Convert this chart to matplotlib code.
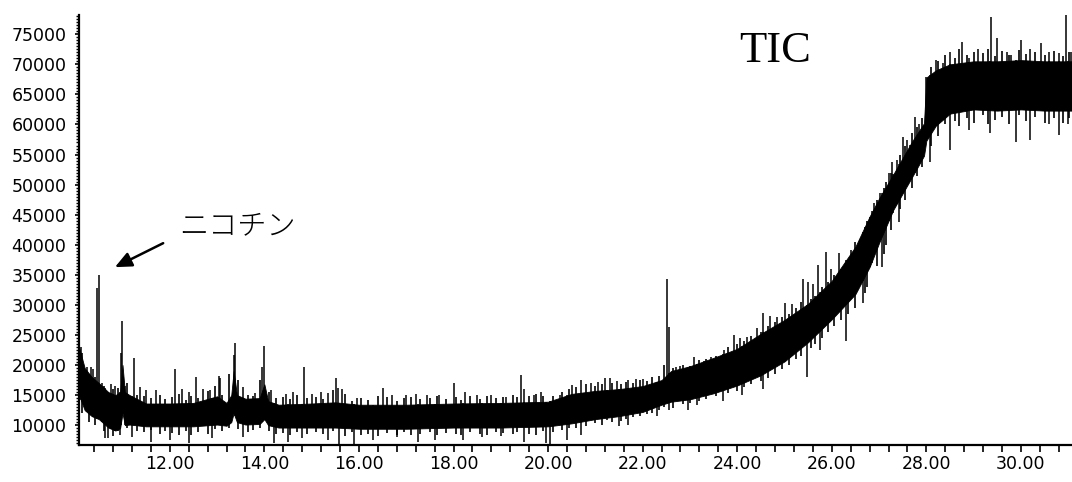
import numpy as np
import matplotlib
matplotlib.use("Agg")
import matplotlib.pyplot as plt
from matplotlib.ticker import MultipleLocator, FormatStrFormatter

# dense core of the TIC trace (minutes, counts)
core_t = [10.08, 10.2, 10.35, 10.5, 10.7, 10.85, 10.95, 11.0, 11.05, 11.15,
          11.5, 12.0, 12.5, 13.0, 13.2, 13.3, 13.35, 13.42, 13.6, 13.9,
          14.0, 14.08, 14.3, 15.0,
          15.5, 16.0, 17.0, 18.0, 19.0, 20.0, 20.5, 21.0, 21.5, 22.0,
          22.4, 22.6, 23.0, 23.5, 24.0, 24.5, 25.0, 25.5, 26.0, 26.5,
          26.8, 27.0, 27.3, 27.7, 27.95, 28.0, 28.2, 28.5, 29.0, 29.5,
          30.0, 30.5, 31.1]
core_hi = [23000, 19500, 18000, 17000, 15500, 15000, 15500, 20000, 15500, 15000,
           13600, 13600, 13700, 14800, 13700, 15000, 19000, 15000, 14400, 14500,
           16800, 14000, 13400, 13600,
           13800, 13400, 13400, 13600, 13700, 13900, 15200, 15700, 16000, 16500,
           17500, 19000, 19800, 21200, 22700, 25200, 27500, 30200, 34000, 39700,
           44700, 47700, 51700, 57200, 60200, 67800, 69000, 70000, 70500, 70500,
           70700, 70500, 70500]
core_lo = [15000, 12500, 11500, 11000, 9600, 9100, 9500, 12000, 10000, 10100,
           9800, 9800, 9800, 10100, 9900, 10500, 12000, 10500, 10100, 10200,
           11000, 10000, 9600, 9600,
           9600, 9400, 9400, 9600, 9600, 9800, 10300, 11000, 11500, 12200,
           13400, 13900, 14300, 15300, 16600, 18300, 20600, 23800, 27600, 31800,
           36300, 40300, 45800, 51300, 54800, 57300, 59800, 61800, 62500, 62300,
           62500, 62300, 62300]

# noise whiskers around the core: time, low, high
w_t = [10.15, 10.3, 10.42, 10.6, 10.8, 10.9, 11.1, 11.3, 11.45, 11.6,
       11.8, 11.9, 12.05, 12.2, 12.35, 12.45, 12.6, 12.8, 12.95, 13.1,
       13.25, 13.45, 13.65, 13.75, 13.9, 14.1, 14.25, 14.4, 14.55, 14.7,
       14.9, 15.1, 15.25, 15.45, 15.7, 15.85, 16.05, 16.2, 16.4, 16.6,
       16.8, 16.95, 17.1, 17.3, 17.5, 17.65, 17.85, 18.05, 18.15, 18.35,
       18.55, 18.7, 18.9, 19.05, 19.25, 19.35, 19.6, 19.75, 19.9, 20.1,
       20.3, 20.45, 20.6, 20.8, 21.0, 21.15, 21.35, 21.55, 21.65, 21.8,
       21.95, 22.1, 22.2, 22.35, 22.45, 22.65, 22.85, 23.0, 23.2, 23.35,
       23.55, 23.8, 24.0, 24.15, 24.3, 24.5, 24.65, 24.8, 24.95, 25.1,
       25.25, 25.35, 25.55, 25.65, 25.8, 25.92, 26.05, 26.2, 26.35, 26.5,
       26.7, 26.75, 26.95, 27.1, 27.15, 27.25, 27.45, 27.55, 27.7, 27.8,
       27.9, 28.1, 28.25, 28.4, 28.6, 28.7, 28.85, 29.0, 29.2, 29.3,
       29.45, 29.6, 29.75, 29.95, 30.1, 30.3, 30.5, 30.7, 30.9, 31.02]
w_lo = [12000, 10500, 10000, 9000, 8200, 9000, 9500, 9000, 8800, 9200,
        8500, 9000, 8700, 8400, 9000, 8300, 8800, 8600, 9300, 9000,
        9500, 9300, 8800, 9200, 9500, 9000, 8500, 8700, 8300, 8800,
        8600, 8900, 8500, 9000, 8200, 8800, 8400, 8600, 8200, 8700,
        8400, 8900, 8300, 8600, 8800, 8400, 8700, 8500, 8300, 8900,
        8600, 8400, 8800, 8700, 8500, 8900, 8600, 8300, 9000, 8800,
        9200, 9600, 9500, 9800, 10300, 10000, 10600, 10700, 11000, 11300,
        11500, 11800, 12000, 12600, 13000, 12800, 13500, 13700, 14000, 14300,
        14800, 15300, 15600, 16300, 16800, 17300, 17800, 18500, 19300, 20000,
        21000, 21500, 22800, 23500, 24500, 25500, 26500, 27500, 28500, 29500,
        32000, 33000, 36500, 38500, 40000, 42500, 46000, 47500, 49500, 51500,
        53000, 56500, 58000, 60000, 60500, 59800, 61000, 60200, 61500, 60000,
        60800, 61200, 60000, 61500, 60500, 61300, 60200, 61000, 60300, 61000]
w_hi = [22000, 18500, 18000, 16500, 16000, 16200, 17000, 15000, 14800, 14500,
        15000, 14300, 14600, 15200, 14200, 14800, 14500, 15600, 16500, 15000,
        18500, 17500, 15000, 14800, 17500, 15500, 14500, 14700, 14300, 15000,
        14500, 14600, 14300, 15800, 15200, 14000, 14500, 14200, 14800, 14600,
        14000, 14500, 14700, 14300, 14500, 14800, 14400, 14600, 14200, 14800,
        14400, 14900, 14500, 14700, 15000, 14600, 14800, 15200, 14900, 14800,
        15500, 16000, 16400, 16800, 16500, 16900, 17000, 16800, 17200, 17000,
        17500, 17300, 18000, 18200, 20000, 19500, 20000, 19800, 20800, 21000,
        21500, 23000, 23500, 24000, 24800, 25500, 26500, 27200, 28000, 28500,
        29500, 30500, 31000, 31500, 33000, 33800, 35000, 36000, 37500, 40500,
        43000, 44000, 47500, 49500, 50500, 52000, 55000, 56500, 58500, 59500,
        61000, 69500, 70500, 71500, 71000, 72500, 71500, 72000, 71800, 72500,
        71300, 72200, 71500, 72300, 71700, 72000, 71500, 72200, 71400, 72000]

# upward spikes: time and top value
up_t = [10.09, 10.12, 10.25, 10.33, 10.37, 10.47, 10.50, 10.56, 10.75, 10.85,
        10.96, 10.99, 11.05, 11.24, 11.38, 11.5, 11.7, 12.1, 12.25, 12.4,
        12.55, 12.7, 12.85, 13.04, 13.07, 13.35, 13.37, 13.55, 13.8, 13.95,
        13.99, 14.15, 14.45, 14.6, 14.83, 15.0, 15.2, 15.35, 15.51, 15.56,
        15.65, 15.95, 16.5, 16.7, 17.0, 17.2, 17.45, 17.7, 18.0, 18.25,
        18.5, 18.8, 19.1, 19.42, 19.5, 19.7, 19.85, 20.25, 20.5, 20.7,
        20.9, 21.05, 21.2, 21.3, 21.45, 21.7, 21.85, 22.0, 22.51, 22.55,
        22.7, 22.78, 22.9, 23.08, 23.3, 23.45, 23.6, 23.72, 23.93, 24.05,
        24.2, 24.42, 24.55, 24.7, 24.85, 25.0, 25.15, 25.4, 25.5, 25.6,
        25.7, 25.87, 25.98, 26.15, 26.4, 26.6, 26.65, 26.8, 26.9, 27.03,
        27.2, 27.27, 27.37, 27.5, 27.6, 27.75, 27.85, 28.0, 28.2, 28.35,
        28.5, 28.75, 28.9, 29.1, 29.36, 29.5, 29.7, 29.8, 30.0, 30.2,
        30.42, 30.6, 30.8, 30.96, 31.05]
up_top = [37400, 23000, 19600, 19600, 19300, 32800, 34900, 17000, 16800, 16500,
          22000, 27300, 16500, 21100, 16300, 15900, 15800, 19300, 16000, 15500,
          18000, 16000, 15800, 18100, 17800, 21600, 23600, 16300, 15300, 19600,
          23100, 15800, 15200, 15500, 19600, 15200, 15500, 15300, 17800, 16200,
          16000, 14500, 16200, 15000, 15000, 15100, 15000, 15000, 17000, 15500,
          15000, 15000, 14700, 18300, 16000, 15000, 15500, 15000, 16700, 17500,
          17000, 17200, 17800, 17800, 17300, 17500, 17700, 17700, 34300, 26300,
          19600, 19800, 19400, 21300, 20700, 21300, 21000, 22500, 25000, 24500,
          24600, 26100, 28600, 28200, 28000, 30300, 30200, 34300, 33800, 33500,
          36600, 38800, 36000, 38600, 39100, 40800, 41000, 44600, 46900, 48600,
          51900, 53700, 54100, 57900, 57400, 61200, 60000, 67900, 70700, 70200,
          72000, 73700, 71000, 72500, 77800, 74400, 72000, 71500, 74000, 72500,
          73500, 72000, 71800, 78500, 72000]

# downward spikes: time and bottom value
dn_t = [10.62, 10.7, 10.95, 11.2, 11.6, 12.0, 12.4, 12.9, 13.55, 14.2,
        14.5, 14.8, 15.35, 15.58, 15.9, 16.3, 16.8, 17.25, 17.6, 18.2,
        18.6, 19.0, 19.5, 19.95, 20.05, 20.4, 20.7, 21.25, 21.5, 21.7,
        22.3, 22.55, 22.95, 23.15, 23.7, 24.1, 24.55, 25.47, 25.75, 26.3,
        26.65, 26.86, 27.07, 27.3, 27.42, 27.65, 28.07, 28.5, 28.9, 29.35,
        29.9, 30.2, 30.6, 30.8, 31.0]
dn_bot = [7800, 7800, 8300, 8000, 7200, 7500, 7000, 7800, 8000, 7000,
          7200, 7800, 7500, 6700, 6300, 7500, 8000, 7200, 7500, 7500,
          8000, 8200, 7200, 7000, 6700, 7500, 8300, 10800, 9800, 10000,
          11500, 12500, 12500, 13300, 14000, 15000, 16000, 18000, 22500, 24000,
          30300, 37000, 36300, 45200, 43800, 50700, 53700, 55700, 59000, 58600,
          57100, 57400, 60000, 58200, 60000]

y_ticks = list(range(10000, 75001, 5000))
x_ticks = [12, 14, 16, 18, 20, 22, 24, 26, 28, 30]

plt.rcParams['font.family'] = ['DejaVu Sans']

fig = plt.figure(figsize=(10.72, 4.82), dpi=100)
ax = fig.add_axes([79 / 1072, 37 / 482, 993 / 1072, 430 / 482])

ax.fill_between(core_t, core_lo, core_hi, color='black', lw=0.6)
ax.vlines(w_t, w_lo, w_hi, color='black', lw=1.2)
up_t = np.array(up_t)
dn_t = np.array(dn_t)
ax.vlines(up_t, np.interp(up_t, core_t, core_lo), up_top, color='black', lw=1.1)
ax.vlines(dn_t, dn_bot, np.interp(dn_t, core_t, core_hi), color='black', lw=1.1)

ax.set_xlim(10.08, 31.08)
ax.set_ylim(6700, 78200)

ax.set_xticks(x_ticks)
ax.xaxis.set_major_formatter(FormatStrFormatter('%.2f'))
ax.xaxis.set_minor_locator(MultipleLocator(0.4))
ax.set_yticks(y_ticks)
ax.yaxis.set_minor_locator(MultipleLocator(500))

for s in ['top', 'right']:
    ax.spines[s].set_visible(False)
for s in ['left', 'bottom']:
    ax.spines[s].set_linewidth(1.6)

ax.tick_params(axis='both', which='major', labelsize=12.5, colors='black',
               width=1.2, length=5, pad=2)
ax.tick_params(axis='y', which='minor', width=1.0, length=2.5)
ax.tick_params(axis='x', which='minor', width=1.2, length=5)
ax.tick_params(axis='y', which='major', length=3, pad=6)

fig.text(739 / 1072, 1 - 62 / 482, 'TIC', family='Liberation Serif',
         fontsize=32, va='baseline', ha='left')

ax.annotate('', xy=(10.84, 36270), xytext=(11.86, 40260),
            arrowprops=dict(arrowstyle='-|>,head_length=1.0,head_width=0.45',
                            color='black', lw=1.8, shrinkA=0, shrinkB=0))
ax.text(12.2, 43200, 'ニコチン', family=['Noto Sans CJK JP', 'DejaVu Sans'],
        fontsize=21, fontweight='light', va='center', ha='left')

fig.savefig('out.png', dpi=100)
